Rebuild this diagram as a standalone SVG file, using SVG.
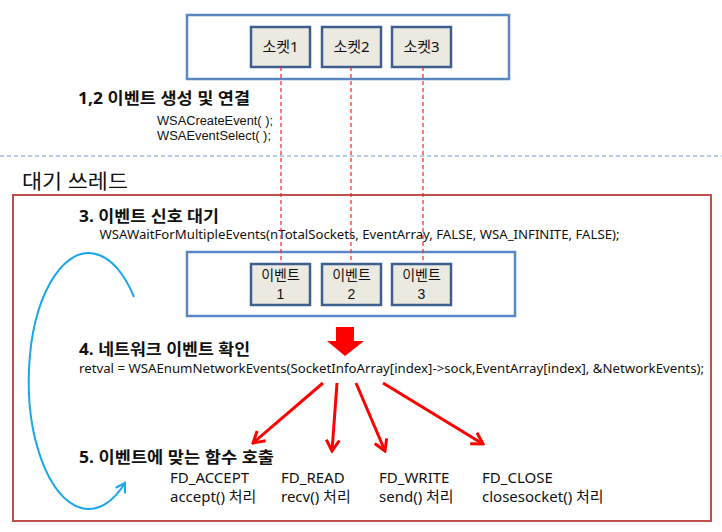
<svg xmlns="http://www.w3.org/2000/svg" width="722" height="532" viewBox="0 0 722 532">
<style>
text{font-family:"Noto Sans","Noto Sans CJK KR",sans-serif;fill:#111}
.h{font-weight:bold;font-size:16px}
.c{font-size:12.5px}
.s{font-size:12px;font-family:"Liberation Sans","Noto Sans CJK KR",sans-serif}
.n{font-size:15px}
.box{fill:#fff;stroke:#5b87c2;stroke-width:2.5}
.cell{fill:#ECEAE0;stroke:#3d5f8f;stroke-width:2.5}
.cl{font-size:15px;text-anchor:middle}
.el{font-size:14px;text-anchor:middle;font-family:"Liberation Sans","Noto Sans CJK KR",sans-serif}
.rd{stroke:#ff2020;stroke-width:1.2;stroke-dasharray:4 3;fill:none}
.ra{stroke:#ff0000;stroke-width:3;fill:none;marker-end:url(#ah)}
</style>
<defs>
<marker id="ah" markerUnits="userSpaceOnUse" viewBox="0 0 16 16" refX="14" refY="8" markerWidth="16" markerHeight="16" orient="auto">
<path d="M3,1.5 L14,8 L3,14.5" fill="none" stroke="#ff0000" stroke-width="3"/>
</marker>
<marker id="bh" markerUnits="userSpaceOnUse" viewBox="0 0 14 14" refX="12" refY="7" markerWidth="14" markerHeight="14" orient="auto">
<path d="M3,1.5 L12,7 L3,12.5" fill="none" stroke="#1aa7ea" stroke-width="2"/>
</marker>
</defs>
<rect width="722" height="532" fill="#fff"/>
<g id="top-panel">
<rect class="box" x="187" y="15" width="322" height="64"/>
</g>
<g id="socket1"><rect class="cell" x="251" y="27" width="59" height="40"/><text class="cl" x="280.5" y="52">소켓1</text></g>
<g id="socket2"><rect class="cell" x="322" y="27" width="59" height="40"/><text class="cl" x="351.5" y="52">소켓2</text></g>
<g id="socket3"><rect class="cell" x="392" y="27" width="59" height="40"/><text class="cl" x="421.5" y="52">소켓3</text></g>
<g id="step12">
<text class="h" x="78" y="104" textLength="172" lengthAdjust="spacingAndGlyphs">1,2 이벤트 생성 및 연결</text>
<text class="s" x="157" y="125" textLength="116" lengthAdjust="spacingAndGlyphs">WSACreateEvent( );</text>
<text class="s" x="157" y="139.5" textLength="114" lengthAdjust="spacingAndGlyphs">WSAEventSelect( );</text>
</g>
<line x1="0" y1="156" x2="722" y2="156" stroke="#6d9bd2" stroke-width="1.2" stroke-dasharray="4 3"/>
<g id="thread">
<text x="22" y="189" style="font-size:20px" textLength="106" lengthAdjust="spacingAndGlyphs">대기 쓰레드</text>
<rect x="13" y="195" width="698" height="326" fill="none" stroke="#c0504d" stroke-width="2"/>
</g>
<g id="step3">
<text class="h" x="79" y="222" textLength="140" lengthAdjust="spacingAndGlyphs">3. 이벤트 신호 대기</text>
<text class="c" x="99.5" y="239" textLength="520" lengthAdjust="spacingAndGlyphs">WSAWaitForMultipleEvents(nTotalSockets,  EventArray,  FALSE, WSA_INFINITE,  FALSE);</text>
</g>
<g id="event-panel"><rect class="box" x="187" y="252" width="328" height="64"/></g>
<g id="event1"><rect class="cell" x="251" y="264" width="59" height="41"/><text class="el" x="280.5" y="280">이벤트</text><text class="el" x="280.5" y="299">1</text></g>
<g id="event2"><rect class="cell" x="322" y="264" width="59" height="41"/><text class="el" x="351.5" y="280">이벤트</text><text class="el" x="351.5" y="299">2</text></g>
<g id="event3"><rect class="cell" x="392" y="264" width="59" height="41"/><text class="el" x="421.5" y="280">이벤트</text><text class="el" x="421.5" y="299">3</text></g>
<g id="step4">
<text class="h" x="79" y="355" textLength="171" lengthAdjust="spacingAndGlyphs">4. 네트워크 이벤트 확인</text>
<text class="c" x="79" y="373" textLength="625" lengthAdjust="spacingAndGlyphs">retval  =  WSAEnumNetworkEvents(SocketInfoArray[index]-&gt;sock,EventArray[index],  &amp;NetworkEvents);</text>
</g>
<g id="step5">
<text class="h" x="79" y="463" textLength="195" lengthAdjust="spacingAndGlyphs">5. 이벤트에 맞는 함수 호출</text>
<text class="n" x="170" y="483">FD_ACCEPT</text>
<text class="n" x="170" y="502">accept() 처리</text>
<text class="n" x="281" y="483">FD_READ</text>
<text class="n" x="281" y="502">recv() 처리</text>
<text class="n" x="379" y="483">FD_WRITE</text>
<text class="n" x="379" y="502">send() 처리</text>
<text class="n" x="482" y="483">FD_CLOSE</text>
<text class="n" x="482" y="502">closesocket() 처리</text>
</g>
<g id="connectors">
<line class="rd" x1="281" y1="67" x2="281" y2="264"/>
<line class="rd" x1="351" y1="67" x2="351" y2="264"/>
<line class="rd" x1="423" y1="67" x2="423" y2="264"/>
<path d="M336,327 H354 V341 H364 L345,356 L327,341 H336 Z" fill="#ff0000"/>
<line class="ra" x1="323" y1="383" x2="253" y2="443"/>
<line class="ra" x1="337" y1="383" x2="332" y2="451"/>
<line class="ra" x1="356" y1="383" x2="385" y2="451"/>
<line class="ra" x1="383" y1="383" x2="483" y2="444"/>
<path d="M134,297 A60,128 0 1 0 125,483" fill="none" stroke="#1aa7ea" stroke-width="2" marker-end="url(#bh)"/>
</g>
</svg>
